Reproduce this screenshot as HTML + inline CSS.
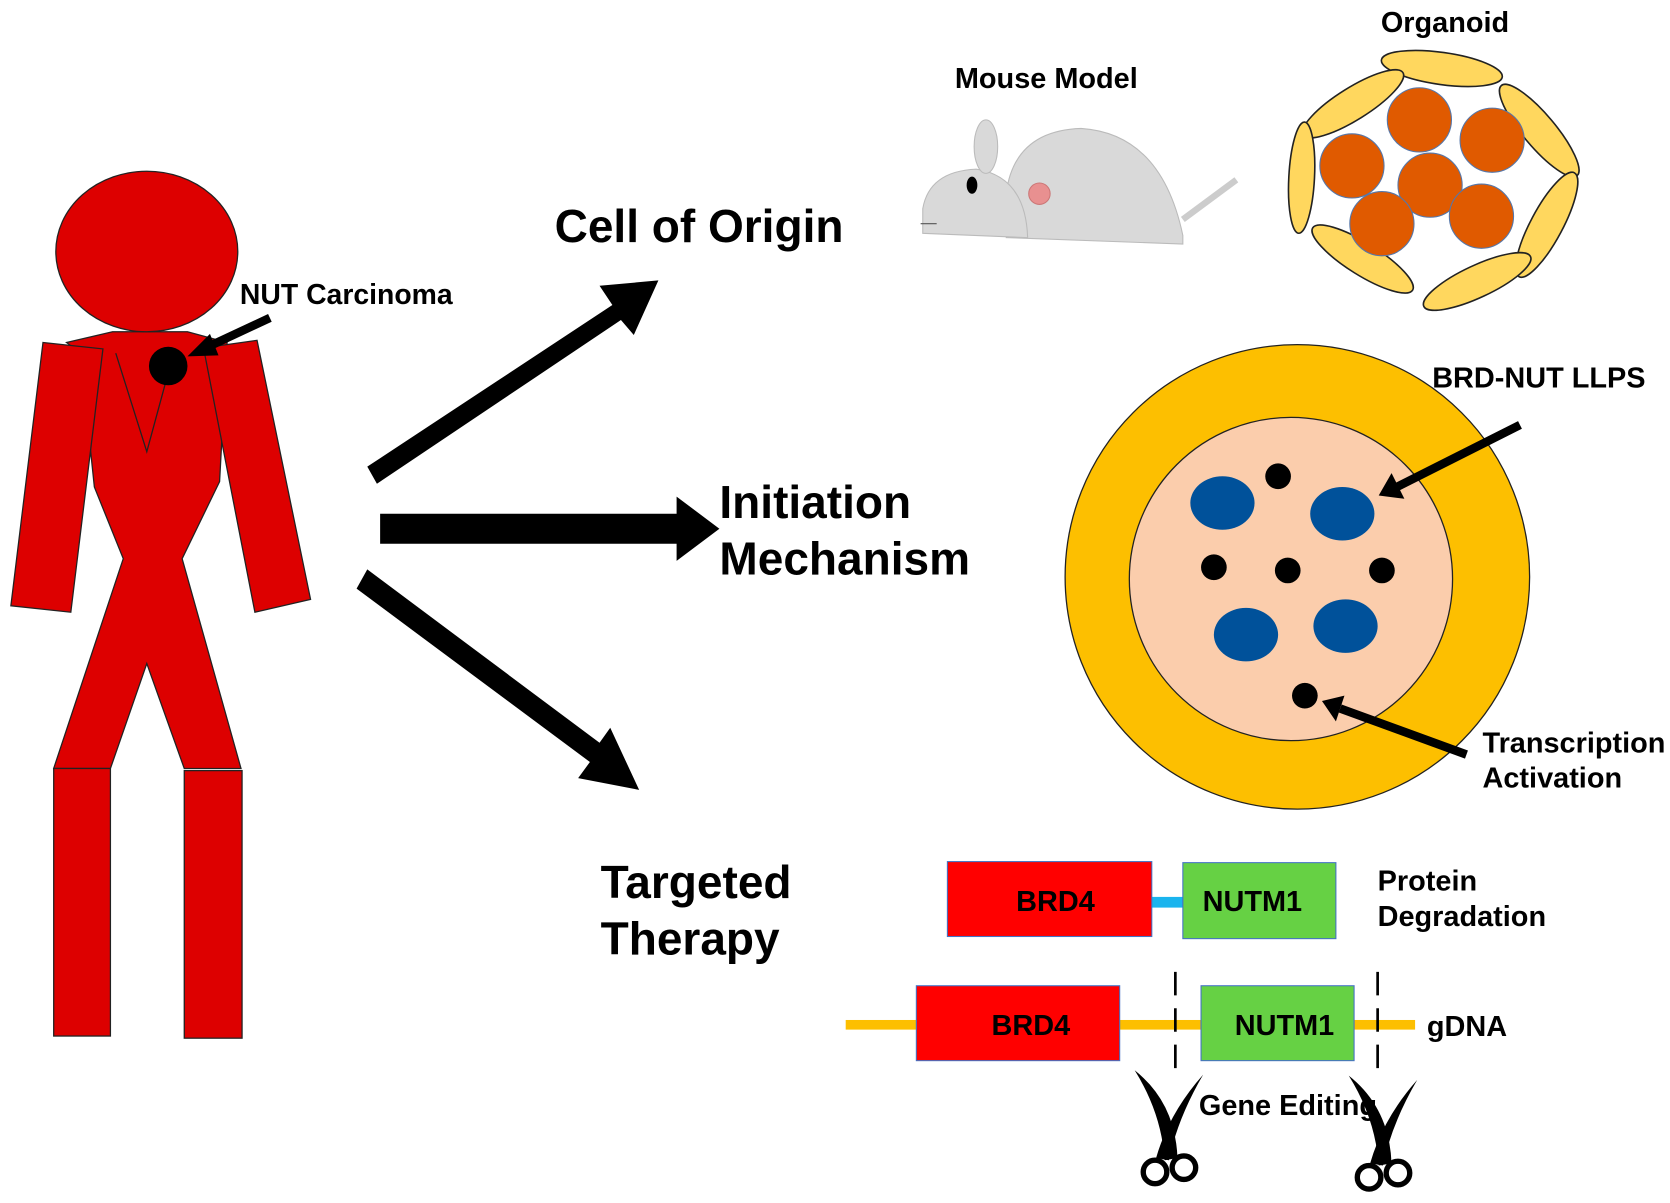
<!DOCTYPE html>
<html><head><style>html,body{margin:0;padding:0;background:#fff}svg{display:block}
text{font-family:"Liberation Sans",Arial,sans-serif;font-weight:bold;fill:#000}</style></head>
<body>
<svg width="1670" height="1203" viewBox="0 0 1560 1124" xmlns="http://www.w3.org/2000/svg">
<!-- person -->
<g fill="#dd0000" stroke="#222" stroke-width="1.2">
<polygon points="62,320 105,310 175,310 212,320 205,450 170,522 225,718 172,718 137,620 103,718 50,718 115,522 88,455 75,330"/>
<polygon points="40,320 96,326 66,572 10,566"/>
<polygon points="190,325 240,318 290,560 238,572"/>
<rect x="50" y="718" width="53" height="250"/>
<rect x="172" y="720" width="54" height="250"/>
<ellipse cx="137" cy="235" rx="85" ry="75"/>
</g>
<polyline points="108,330 137,422 162,330" fill="none" stroke="#222" stroke-width="1.2"/>
<circle cx="157" cy="342" r="18" fill="#000"/>
<line x1="252" y1="297" x2="192" y2="325" stroke="#000" stroke-width="8"/>
<polygon points="175,333 196,312 204,332" fill="#000"/>
<text x="224" y="284" font-size="26.5">NUT Carcinoma</text>
<!-- arrows -->
<g fill="#000">
<polygon points="343,436 572,285 560,267 615,262 592,313 580,299 352,452"/>
<polygon points="355,480 632,480 632,464 672,494 632,524 632,508 355,508"/>
<polygon points="343,532 560,694 570,680 597,738 540,727 551,712 333,550"/>
</g>
<text x="518" y="226" font-size="43">Cell of Origin</text>
<text x="672" y="484" font-size="43">Initiation</text>
<text x="672" y="537" font-size="43">Mechanism</text>
<text x="561" y="839" font-size="43">Targeted</text>
<text x="561" y="892" font-size="43">Therapy</text>
<!-- mouse -->
<text x="892" y="82" font-size="27">Mouse Model</text>
<g fill="#d9d9d9" stroke="#bbb" stroke-width="1">
<line x1="1105" y1="205" x2="1155" y2="168" stroke="#ccc" stroke-width="6"/>
<path d="M940,222 L940,180 Q948,122 1010,120 Q1085,125 1105,220 L1105,228 Z"/>
<path d="M862,218 L862,195 Q868,160 912,158 Q958,165 960,222 Z"/>
<ellipse cx="921" cy="137" rx="11" ry="25"/>
</g>
<ellipse cx="908" cy="173" rx="5" ry="8" fill="#000"/>
<circle cx="971" cy="181" r="10" fill="#e89090" stroke="#c77"/>
<line x1="860" y1="209" x2="875" y2="209" stroke="#555"/>
<!-- organoid -->
<text x="1290" y="30" font-size="27">Organoid</text>
<g fill="#ffd75e" stroke="#222" stroke-width="1.5">
<ellipse cx="1347" cy="64" rx="57" ry="15" transform="rotate(8 1347 64)"/>
<ellipse cx="1264" cy="97" rx="55" ry="15" transform="rotate(-32 1264 97)"/>
<ellipse cx="1438" cy="122" rx="55" ry="15" transform="rotate(50 1438 122)"/>
<ellipse cx="1216" cy="166" rx="12" ry="52" transform="rotate(3 1216 166)"/>
<ellipse cx="1445" cy="210" rx="55" ry="15" transform="rotate(-62 1445 210)"/>
<ellipse cx="1273" cy="242" rx="55" ry="15" transform="rotate(32 1273 242)"/>
<ellipse cx="1380" cy="263" rx="55" ry="15" transform="rotate(-25 1380 263)"/>
</g>
<g fill="#e05a00" stroke="#5577aa" stroke-width="1">
<circle cx="1326" cy="112" r="30"/><circle cx="1263" cy="155" r="30"/><circle cx="1394" cy="131" r="30"/>
<circle cx="1336" cy="173" r="30"/><circle cx="1291" cy="209" r="30"/><circle cx="1384" cy="202" r="30"/>
</g>
<!-- cell -->
<circle cx="1212" cy="539" r="217" fill="#fdbf00" stroke="#222" stroke-width="1.2"/>
<circle cx="1206" cy="541" r="151" fill="#fbcdac" stroke="#222" stroke-width="1.2"/>
<g fill="#00519a">
<ellipse cx="1142" cy="470" rx="30" ry="25"/><ellipse cx="1254" cy="480" rx="30" ry="25"/>
<ellipse cx="1164" cy="593" rx="30" ry="25"/><ellipse cx="1257" cy="585" rx="30" ry="25"/>
</g>
<g fill="#000">
<circle cx="1194" cy="445" r="12"/><circle cx="1134" cy="530" r="12"/><circle cx="1203" cy="533" r="12"/>
<circle cx="1291" cy="533" r="12"/><circle cx="1219" cy="650" r="12"/>
<line x1="1420" y1="397" x2="1305" y2="455" stroke="#000" stroke-width="8"/>
<polygon points="1288,463 1300,442 1312,466"/>
<line x1="1370" y1="705" x2="1252" y2="662" stroke="#000" stroke-width="8"/>
<polygon points="1235,655 1256,650 1248,674"/>
</g>
<text x="1338" y="362" font-size="27">BRD-NUT LLPS</text>
<text x="1385" y="703" font-size="27">Transcription</text>
<text x="1385" y="736" font-size="27">Activation</text>
<!-- protein -->
<rect x="1076" y="838" width="30" height="10" fill="#1ab4ee"/>
<rect x="885" y="805" width="191" height="70" fill="#ff0000" stroke="#4472c4"/>
<rect x="1105" y="806" width="143" height="71" fill="#66d144" stroke="#4472c4"/>
<text x="986" y="851" font-size="27" text-anchor="middle">BRD4</text>
<text x="1170" y="851" font-size="27" text-anchor="middle">NUTM1</text>
<text x="1287" y="832" font-size="27">Protein</text>
<text x="1287" y="865" font-size="27">Degradation</text>
<!-- gDNA -->
<rect x="790" y="953" width="532" height="9" fill="#fdbf00"/>
<rect x="856" y="921" width="190" height="70" fill="#ff0000" stroke="#4472c4"/>
<rect x="1122" y="921" width="143" height="70" fill="#66d144" stroke="#4472c4"/>
<text x="963" y="967" font-size="27" text-anchor="middle">BRD4</text>
<text x="1200" y="967" font-size="27" text-anchor="middle">NUTM1</text>
<text x="1333" y="968" font-size="27">gDNA</text>
<g stroke="#000" stroke-width="2.5" stroke-dasharray="22,12">
<line x1="1098" y1="908" x2="1098" y2="1005"/><line x1="1287" y1="908" x2="1287" y2="1005"/>
</g>
<text x="1120" y="1042" font-size="27">Gene Editing</text>
<!-- scissors -->
<g id="sc">
<path d="M1060,1000 Q1098,1030 1100,1082 L1088,1084 Q1085,1040 1060,1000Z" fill="#000"/>
<path d="M1124,1004 Q1092,1040 1080,1082 L1092,1084 Q1100,1045 1124,1004Z" fill="#000"/>
<circle cx="1079" cy="1095" r="11" fill="#fff" stroke="#000" stroke-width="5"/>
<circle cx="1106" cy="1091" r="11" fill="#fff" stroke="#000" stroke-width="5"/>
</g>
<use href="#sc" transform="translate(200,5)"/>
</svg>
</body></html>
